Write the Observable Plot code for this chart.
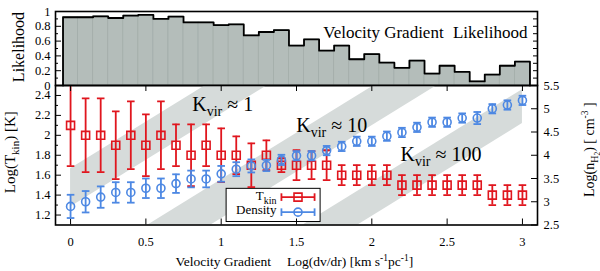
<!DOCTYPE html>
<html>
<head>
<meta charset="utf-8">
<script src="https://cdn.jsdelivr.net/npm/d3@7"></script>
<script src="https://cdn.jsdelivr.net/npm/@observablehq/plot@0.6"></script>
<style>
  body { margin: 0; background: #fff; }
  #chart { position: relative; width: 600px; height: 271px; background: #fff; }
  #chart svg { position: absolute; left: 0; top: 0; }
</style>
</head>
<body>
<div id="chart"></div>
<script>
// ---------------- data ----------------
const logGrad = [0,0.1,0.2,0.3,0.4,0.5,0.6,0.7,0.8,0.9,1.0,1.1,1.2,1.3,1.4,1.5,1.6,1.7,1.8,1.9,2.0,2.1,2.2,2.3,2.4,2.5,2.6,2.7,2.8,2.9,3.0];
const likelihood = [0.922,0.922,0.935,0.912,0.945,0.954,0.899,0.931,0.852,0.852,0.816,0.825,0.677,0.723,0.748,0.539,0.622,0.470,0.539,0.355,0.424,0.308,0.239,0.336,0.161,0.267,0.184,0.055,0.147,0.267,0.322];
const tkin    = [2.10,2.00,2.00,1.90,2.00,1.90,2.00,1.90,1.80,1.90,1.80,1.80,1.70,1.80,1.70,1.70,1.70,1.70,1.60,1.60,1.60,1.60,1.50,1.50,1.50,1.50,1.50,1.50,1.40,1.40,1.40];
const tkinErr = [0.41,0.37,0.37,0.34,0.34,0.31,0.34,0.21,0.31,0.21,0.27,0.19,0.22,0.15,0.07,0.15,0.14,0.15,0.10,0.10,0.10,0.10,0.10,0.10,0.10,0.10,0.10,0.10,0.10,0.10,0.10];
const density    = [2.90,3.00,3.10,3.20,3.20,3.29,3.29,3.39,3.49,3.49,3.60,3.70,3.77,3.78,3.90,3.99,3.99,4.10,4.19,4.30,4.30,4.41,4.49,4.60,4.71,4.71,4.80,4.80,5.00,5.08,5.18];
const densityErr = [0.25,0.23,0.23,0.22,0.22,0.21,0.21,0.20,0.18,0.18,0.17,0.15,0.14,0.12,0.11,0.10,0.10,0.10,0.10,0.10,0.10,0.10,0.10,0.10,0.10,0.10,0.10,0.13,0.10,0.10,0.10];

const xTicks = [0,0.5,1,1.5,2,2.5,3];
const tkinTicks = [1.2,1.4,1.6,1.8,2,2.2,2.4];
const tkinMinor = [1.3,1.5,1.7,1.9,2.1,2.3];
const densTicks = [2.5,3,3.5,4,4.5,5,5.5];
const likeTicks = [0,0.2,0.4,0.6,0.8,1];
const likeMinor = [0.1,0.3,0.5,0.7,0.9];
const likeAll = [0.1,0.2,0.3,0.4,0.5,0.6,0.7,0.8,0.9];

// Kvir bands: edges (in log Tkin units) at x = 0 and x = 3
const bandX = [0, 3];
const bandLo0 = [1.28, 0.23, -0.68];
const bandHi0 = [1.664, 0.62, -0.34];
const bandLo3 = [4.078, 3.028, 2.118];
const bandHi3 = [4.462, 3.418, 2.458];
const kvirNames = ["Kvir ≈ 1", "Kvir ≈ 10", "Kvir ≈ 100"];
const kvirLabelX = [0.808, 1.498, 2.190];
const kvirLabelY = [2.246, 2.029, 1.743];

// legend (Tkin data units)
const legendBox = [{x1: 1.036, x2: 1.660, y1: 1.13, y2: 1.463}];
const legendRows = [
  {label: "Tkin", which: "tkin", y: 1.380, ty: 1.347},
  {label: "Density", which: "dens", y: 1.229, ty: 1.214}
];
const legendTextX = 1.367, legendX1 = 1.400, legendX2 = 1.620, legendMid = 1.510;

// axis-title anchors (in each panel's own data units, outside the frame)
const likeTitle = [{text: "Likelihood", x: -0.306, y: 0.52}];
const tkinTitle = [{text: "Log(Tkin) [K]", x: -0.372, y: 1.83}];
const densTitle = [{text: "Log(nH2) [cm-3]", x: 3.472, y: 4.12}];

// ---------------- layout / style ----------------
const W = 600, H = 271, ML = 55, MR = 63;
const TOP_T = 11, TOP_B = 186;
const BOT_T = 85, BOT_B = 46.5;
const FW = W - ML - MR;
const xDomain = [-0.1, 3.1];
const FONT = "'Liberation Serif', 'DejaVu Serif', serif";
const RED = "#e0161e", BLUE = "#4d88e3", BAND = "#d6dbda", HISTFILL = "#b4bdba", HISTLINE = "#a3adaa";
const baseStyle = {fontFamily: FONT, fontSize: "12.5px", background: "transparent", overflow: "visible", color: "black"};

const hcap = {draw(ctx, size) { const w = Math.sqrt(size / Math.PI); ctx.moveTo(-w, 0); ctx.lineTo(w, 0); }};
const vcap = {draw(ctx, size) { const w = Math.sqrt(size / Math.PI); ctx.moveTo(0, -w); ctx.lineTo(0, w); }};

const pts = logGrad.map((x, i) => ({x, like: likelihood[i], t: tkin[i], te: tkinErr[i], n: density[i], ne: densityErr[i]}));
const binHalf = (logGrad[1] - logGrad[0]) / 2;
const outline = [{x: logGrad[0] - binHalf, y: 0}];
pts.forEach(d => outline.push({x: d.x - binHalf, y: d.like}, {x: d.x + binHalf, y: d.like}));
outline.push({x: logGrad[logGrad.length - 1] + binHalf, y: 0});

const bandPts = kvirNames.flatMap((k, i) => [
  {k, x: bandX[0], lo: bandLo0[i], hi: bandHi0[i]},
  {k, x: bandX[1], lo: bandLo3[i], hi: bandHi3[i]}
]);
const kvirLabels = kvirNames.map((k, i) => ({k, x: kvirLabelX[i], y: kvirLabelY[i]}));

const rich = {
  "Kvir ≈ 1": 'K<tspan dy="5" font-size="14">vir</tspan><tspan dy="-5"> ≈ 1</tspan>',
  "Kvir ≈ 10": 'K<tspan dy="5" font-size="14">vir</tspan><tspan dy="-5"> ≈ 10</tspan>',
  "Kvir ≈ 100": 'K<tspan dy="5" font-size="14">vir</tspan><tspan dy="-5"> ≈ 100</tspan>',
  "Tkin": 'T<tspan dy="4" font-size="10">kin</tspan>',
  "Log(Tkin) [K]": 'Log(T<tspan dy="4" font-size="11">kin</tspan><tspan dy="-4">) [K]</tspan>',
  "Log(nH2) [cm-3]": 'Log(n<tspan dy="4" font-size="10">H</tspan><tspan dy="2" font-size="7.5">2</tspan><tspan dy="-6">) [ cm</tspan><tspan dy="-6" font-size="9.5">-3</tspan><tspan dy="6"> ]</tspan>',
  "XTITLE": 'Velocity Gradient<tspan dx="16">Log(dv/dr)</tspan><tspan> [km s</tspan><tspan dy="-5" font-size="9.5">-1</tspan><tspan dy="5">pc</tspan><tspan dy="-5" font-size="9.5">-1</tspan><tspan dy="5">]</tspan>',
  "TOPTITLE": 'Velocity Gradient <tspan dx="5">Likelihood</tspan>'
};
function enrich(svg) {
  svg.querySelectorAll("text").forEach(t => {
    const k = t.textContent;
    if (rich[k] !== undefined) t.innerHTML = rich[k];
  });
  return svg;
}

// ---------------- top panel: likelihood histogram ----------------
const topPlot = Plot.plot({
  width: W, height: H, marginLeft: ML, marginRight: MR, marginTop: TOP_T, marginBottom: TOP_B,
  style: baseStyle,
  x: {domain: xDomain, axis: null},
  y: {domain: [0, 1], ticks: likeTicks, tickSize: 0, tickPadding: 5, tickFormat: d => String(d), label: null},
  marks: [
    Plot.rectY(pts, {x1: d => d.x - binHalf, x2: d => d.x + binHalf, y: "like", fill: HISTFILL, stroke: HISTLINE, strokeWidth: 0.8}),
    Plot.line(outline, {x: "x", y: "y", stroke: "black", strokeWidth: 1.8}),
    Plot.tickY(likeTicks, {y: d => d, insetRight: FW - 6, stroke: "black"}),
    Plot.tickY(likeMinor, {y: d => d, insetRight: FW - 3, stroke: "black"}),
    Plot.tickY(likeAll, {y: d => d, insetLeft: FW - 4, stroke: "black"}),
    Plot.frame({stroke: "black", strokeWidth: 1.6}),
    Plot.text(["TOPTITLE"], {frameAnchor: "top-right", dx: -10, dy: 26, lineAnchor: "bottom", textAnchor: "end", fontSize: 17}),
    Plot.text(likeTitle, {x: "x", y: "y", text: "text", rotate: -90, lineAnchor: "bottom", textAnchor: "middle", fontSize: 16})
  ]
});

// ---------------- bottom panel: Tkin (left axis) ----------------
const legendMarks = legendRows.flatMap(r => {
  const col = r.which === "tkin" ? RED : BLUE;
  const sym = r.which === "tkin" ? "square" : "circle";
  return [
    Plot.link([r], {x1: () => legendX1, x2: () => legendX2, y1: "y", y2: "y", stroke: col, strokeWidth: 1.8}),
    Plot.dot([r, r], {x: (d, i) => i === 0 ? legendX1 : legendX2, y: "y", symbol: vcap, r: 3.8, stroke: col, strokeWidth: 1.8, fill: "none"}),
    Plot.dot([r], {x: () => legendMid, y: "y", symbol: sym, r: sym === "square" ? 4.5 : 4, stroke: col, strokeWidth: 1.6, fill: "none"}),
    Plot.text([r], {x: () => legendTextX, y: "ty", text: "label", textAnchor: "end", lineAnchor: "bottom", fontSize: 13})
  ];
});

const botPlot = Plot.plot({
  width: W, height: H, marginLeft: ML, marginRight: MR, marginTop: BOT_T, marginBottom: BOT_B,
  style: baseStyle,
  x: {domain: xDomain, ticks: xTicks, tickSize: 0, tickPadding: 12, tickFormat: d => String(d), label: null},
  y: {domain: [1.1, 2.5], ticks: tkinTicks, tickSize: 0, tickPadding: 5, tickFormat: d => String(d), label: null},
  marks: [
    Plot.areaY(bandPts, {x: "x", y1: "lo", y2: "hi", z: "k", fill: BAND, clip: true}),
    Plot.rect(legendBox, {x1: "x1", x2: "x2", y1: "y1", y2: "y2", fill: "white", stroke: "black", strokeWidth: 1}),
    Plot.ruleX(pts, {x: "x", y1: d => d.t - d.te, y2: d => d.t + d.te, stroke: RED, strokeWidth: 1.8, clip: true}),
    Plot.dot(pts, {x: "x", y: d => d.t + d.te, symbol: hcap, r: 3.8, stroke: RED, strokeWidth: 1.8, fill: "none", clip: true}),
    Plot.dot(pts, {x: "x", y: d => d.t - d.te, symbol: hcap, r: 3.8, stroke: RED, strokeWidth: 1.8, fill: "none", clip: true}),
    Plot.dot(pts, {x: "x", y: "t", symbol: "square", r: 4.5, stroke: RED, strokeWidth: 1.6, fill: "none"}),
    Plot.text(kvirLabels, {x: "x", y: "y", text: "k", textAnchor: "start", lineAnchor: "bottom", fontSize: 20}),
    ...legendMarks,
    Plot.tickX(xTicks, {x: d => d, insetTop: (H - BOT_T - BOT_B) - 6, stroke: "black"}),
    Plot.tickX(xTicks, {x: d => d, insetBottom: (H - BOT_T - BOT_B) - 6, stroke: "black"}),
    Plot.tickY(tkinTicks, {y: d => d, insetRight: FW - 6, stroke: "black"}),
    Plot.tickY(tkinMinor, {y: d => d, insetRight: FW - 3, stroke: "black"}),
    Plot.frame({stroke: "black", strokeWidth: 1.6}),
    Plot.text(tkinTitle, {x: "x", y: "y", text: "text", rotate: -90, lineAnchor: "bottom", textAnchor: "middle", fontSize: 15}),
    Plot.text(["XTITLE"], {frameAnchor: "bottom-left", dx: 120, dy: 40.5, lineAnchor: "bottom", textAnchor: "start", fontSize: 13.5})
  ]
});

// ---------------- bottom panel overlay: density (right axis) ----------------
const densPlot = Plot.plot({
  width: W, height: H, marginLeft: ML, marginRight: MR, marginTop: BOT_T, marginBottom: BOT_B,
  style: baseStyle,
  x: {domain: xDomain, axis: null},
  y: {domain: [2.5, 5.5], axis: "right", ticks: densTicks, tickSize: 0, tickPadding: 6, tickFormat: d => String(d), label: null},
  marks: [
    Plot.ruleX(pts, {x: "x", y1: d => d.n - d.ne, y2: d => d.n + d.ne, stroke: BLUE, strokeWidth: 1.8}),
    Plot.dot(pts, {x: "x", y: d => d.n + d.ne, symbol: hcap, r: 3.8, stroke: BLUE, strokeWidth: 1.8, fill: "none"}),
    Plot.dot(pts, {x: "x", y: d => d.n - d.ne, symbol: hcap, r: 3.8, stroke: BLUE, strokeWidth: 1.8, fill: "none"}),
    Plot.dot(pts, {x: "x", y: "n", symbol: "circle", r: 4, stroke: BLUE, strokeWidth: 1.6, fill: "none"}),
    Plot.tickY(densTicks, {y: d => d, insetLeft: FW - 6, stroke: "black"}),
    Plot.text(densTitle, {x: "x", y: "y", text: "text", rotate: -90, lineAnchor: "bottom", textAnchor: "middle", fontSize: 14})
  ]
});

const chart = document.getElementById("chart");
chart.appendChild(enrich(topPlot));
chart.appendChild(enrich(botPlot));
chart.appendChild(enrich(densPlot));
</script>
</body>
</html>
